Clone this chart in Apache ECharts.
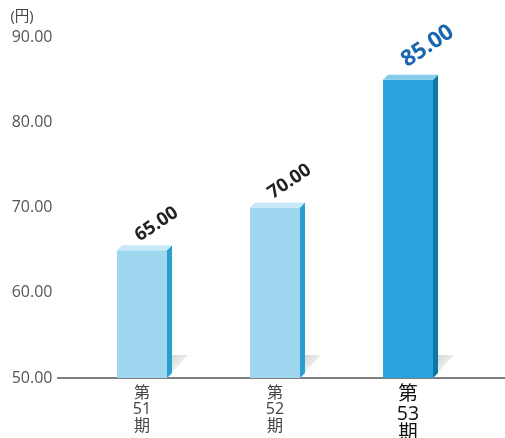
<!DOCTYPE html>
<html><head><meta charset="utf-8">
<script src="https://cdn.jsdelivr.net/npm/echarts@6/dist/echarts.min.js"></script>
<style>html,body{margin:0;padding:0;background:#fff;overflow:hidden}#c{width:505px;height:438px}</style>
</head><body><div id="c"></div>
<script>
const categories = ['第\n51\n期', '第\n52\n期', '第\n53\n期'];
const values = [65.00, 70.00, 85.00];
const highlight = [false, false, true];
const yTicks = { min: 50, max: 90, interval: 10 };
const unitLabel = '(円)';

const FONT = "'Open Sans', 'Noto Sans CJK JP', sans-serif";
const palettes = {
  normal: { front: '#a0d7f0', side: '#2a9fcf', top: '#c8eaf8', label: '#222222' },
  hi: { front: '#2ba3dc', side: '#0f77a6', top: '#86cbea', label: '#1a67b0' }
};

const chart = echarts.init(document.getElementById('c'), null, { width: 505, height: 438 });
const data = values.map((v, i) => [i, v, highlight[i] ? 1 : 0]);

chart.setOption({
  animation: false,
  grid: { left: 75.5, right: 30.5, top: 37, bottom: 60, containLabel: false, outerBoundsMode: 'none' },
  xAxis: {
    type: 'category', data: categories,
    axisLine: { show: false }, axisTick: { show: false },
    axisLabel: {
      margin: 7, fontFamily: FONT, fontSize: 16, lineHeight: 16.5, color: '#444',
      formatter: (v, i) => highlight[i] ? '{h|' + v + '}' : v,
      rich: { h: { fontFamily: FONT, fontSize: 19.5, lineHeight: 19.5, color: '#111' } }
    }
  },
  yAxis: {
    type: 'value', min: yTicks.min, max: yTicks.max, interval: yTicks.interval,
    name: unitLabel, nameGap: 13,
    nameTextStyle: { fontFamily: FONT, fontSize: 14.5, color: '#444', align: 'right', padding: [0, 42, 0, 0] },
    axisLine: { show: false }, axisTick: { show: false }, splitLine: { show: false },
    axisLabel: { margin: 23, fontFamily: FONT, fontSize: 16, color: '#555', formatter: v => v.toFixed(2) }
  },
  series: [{
    type: 'custom',
    data: data,
    renderItem: function (params, api) {
      const idx = api.value(0);
      const val = api.value(1);
      const hi = api.value(2);
      const p = hi ? palettes.hi : palettes.normal;
      const top = api.coord([idx, val]);
      const base = api.coord([idx, yTicks.min]);
      const band = api.size([1, 0])[0];
      const w = band * 0.376;
      const d = 5;
      const xl = top[0] - w / 2, xr = top[0] + w / 2;
      const yt = top[1], yb = base[1];
      return {
        type: 'group',
        children: [
          { type: 'polygon', shape: { points: [[xr, yb - 23], [xr + 21, yb - 23], [xr, yb]] },
            style: { fill: new echarts.graphic.LinearGradient(0, 0, 1, 1, [{ offset: 0, color: '#d0d0d0' }, { offset: 0.8, color: '#ffffff' }]) } },
          { type: 'rect', shape: { x: xl, y: yt, width: w, height: yb - yt }, style: { fill: p.front } },
          { type: 'polygon', shape: { points: [[xr, yt], [xr + d, yt - d], [xr + d, yb - d], [xr, yb]] }, style: { fill: p.side } },
          { type: 'polygon', shape: { points: [[xl, yt], [xl + d, yt - d], [xr + d, yt - d], [xr, yt]] }, style: { fill: p.top } },
          { type: 'text', x: top[0] + (hi ? 2 : 0), y: yt - (hi ? 8 : 5), rotation: 34 * Math.PI / 180,
            style: { text: val.toFixed(2), x: 0, y: 0, align: 'left', verticalAlign: 'bottom',
              font: 'bold ' + (hi ? 22.5 : 18.5) + 'px ' + FONT, fill: p.label } }
        ]
      };
    }
  }]
});

const y0 = chart.convertToPixel({ yAxisIndex: 0 }, yTicks.min);
chart.setOption({
  graphic: [{ type: 'line', shape: { x1: 57, y1: y0, x2: 505, y2: y0 }, style: { stroke: '#555', lineWidth: 1.3 } }]
});
</script>
</body></html>
